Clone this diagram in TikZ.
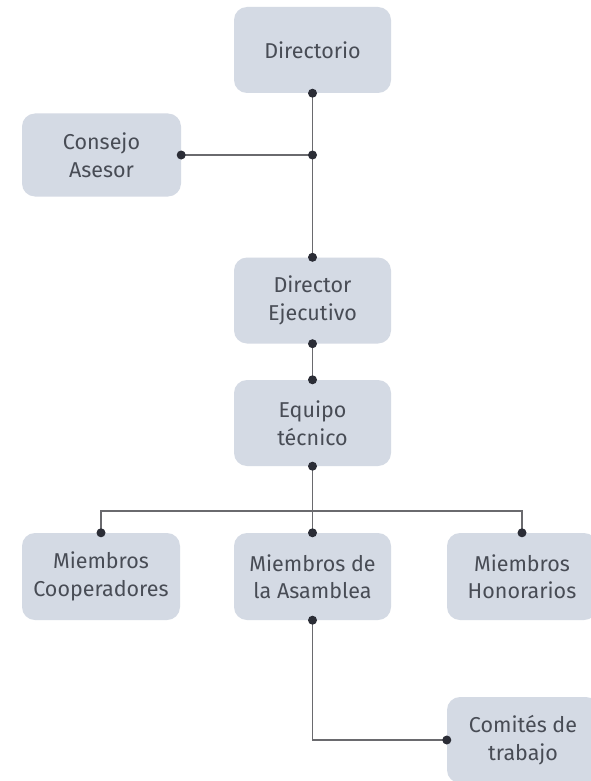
\documentclass[tikz,border=0pt]{standalone}
\usepackage{fontspec}
\setmainfont{Fira Sans}
\definecolor{boxfill}{HTML}{D4DAE4}
\definecolor{txt}{HTML}{484C55}
\definecolor{linec}{HTML}{6A6A6E}
\definecolor{dotc}{HTML}{2B2D36}
\begin{document}
\begin{tikzpicture}[x=1pt,y=1pt,
  orgbox/.style={rounded corners=13pt, fill=boxfill, draw=none, text=txt,
    align=center, inner sep=0pt, minimum width=157pt, minimum height=86pt,
    font=\fontsize{21.5}{27.5}\selectfont},
  conn/.style={draw=linec, line width=1.6pt},
  dotmark/.style={fill=dotc}]
\useasboundingbox (0,0) rectangle (591,-781);
\fill[white] (0,0) rectangle (591,-781);
\node[orgbox] (dir) at (312.5,-50) {Directorio};
\node[orgbox, minimum width=159pt, minimum height=83pt] (cons) at (101.5,-155) {Consejo\\Asesor};
\node[orgbox] (de) at (312.5,-300.5) {Director\\Ejecutivo};
\node[orgbox] (eq) at (312.5,-423) {Equipo\\técnico};
\node[orgbox, minimum width=158pt, minimum height=87pt] (coop) at (101,-576.5) {Miembros\\Cooperadores};
\node[orgbox, minimum height=87pt] (asam) at (312.5,-576.5) {Miembros de\\la Asamblea};
\node[orgbox, minimum width=150pt, minimum height=87pt] (hon) at (522,-576.5) {Miembros\\Honorarios};
\node[orgbox, minimum width=152pt, minimum height=86pt] (com) at (523,-740) {Comités de\\trabajo};
\coordinate (j) at (312.5,-155);
\coordinate (h) at (312.5,-511);
\draw[conn] (dir.south) -- (de.north);
\draw[conn] (cons.east) -- (j);
\draw[conn] (de.south) -- (eq.north);
\draw[conn] (eq.south) -- (asam.north);
\draw[conn] (coop.north) |- (h) -| (hon.north);
\draw[conn] (asam.south) |- (com.west);
\foreach \p in {dir.south, cons.east, j, de.north, de.south, eq.north, eq.south, coop.north, asam.north, hon.north, asam.south, com.west}
  \fill[dotmark] (\p) circle (4.5pt);
\end{tikzpicture}
\end{document}
